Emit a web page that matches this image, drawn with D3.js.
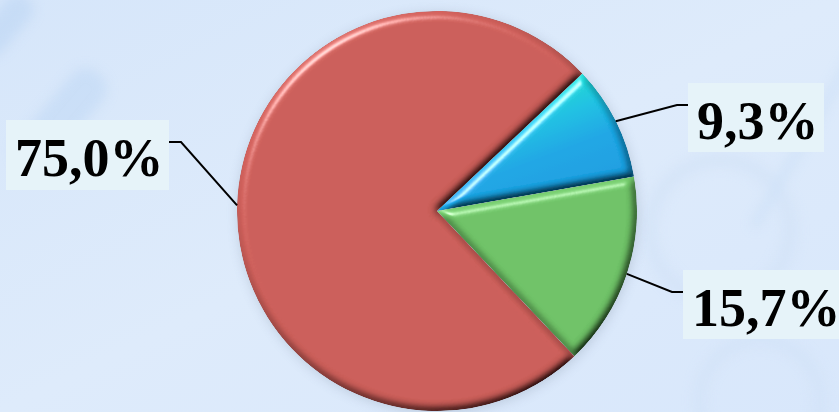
<!DOCTYPE html>
<html>
<head>
<meta charset="utf-8">
<script src="https://cdn.jsdelivr.net/npm/d3@7"></script>
<style>
  html, body { margin: 0; padding: 0; overflow: hidden; }
  svg { display: block; }
</style>
</head>
<body>
<svg id="chart" width="839" height="412"></svg>
<script>
// ---- data ----
const categories = ["A", "B", "C"];
const values = [9.3, 15.7, 75.0];
const labels = ["9,3%", "15,7%", "75,0%"];
const colors = ["#1ba6e6", "#70c468", "#cd5f5a"];

// ---- layout ----
const W = 839, H = 412;
const cx = 437, cy = 211, R = 200;
const startDeg = 46.6;
const boxes = [
  { x: 688, y: 83, w: 136, h: 69, side: "right" },
  { x: 683, y: 270, w: 170, h: 69, side: "right" },
  { x: 6, y: 120, w: 163, h: 70, side: "left" }
];

const svg = d3.select("#chart");
const defs = svg.append("defs");

const bg = defs.append("linearGradient").attr("id", "bg")
  .attr("x1", "0").attr("y1", "0").attr("x2", "1").attr("y2", "1");
bg.append("stop").attr("offset", "0").attr("stop-color", "#d6e6fa");
bg.append("stop").attr("offset", "0.5").attr("stop-color", "#deebfb");
bg.append("stop").attr("offset", "1").attr("stop-color", "#d8e7fb");

const blurF = defs.append("filter").attr("id", "soft")
  .attr("x", "-50%").attr("y", "-50%").attr("width", "200%").attr("height", "200%");
blurF.append("feGaussianBlur").attr("stdDeviation", 6);

const bl = defs.append("linearGradient").attr("id", "blueGrad")
  .attr("gradientUnits", "userSpaceOnUse")
  .attr("x1", 130).attr("y1", -135).attr("x2", 170).attr("y2", -30);
bl.append("stop").attr("offset", "0").attr("stop-color", "#22ddd2");
bl.append("stop").attr("offset", "0.3").attr("stop-color", "#1cc3e4");
bl.append("stop").attr("offset", "0.6").attr("stop-color", "#1aa8e6");
bl.append("stop").attr("offset", "1").attr("stop-color", "#1a9fe2");

// bevel filter
const bev = defs.append("filter").attr("id", "bevel")
  .attr("x", "-10%").attr("y", "-10%").attr("width", "120%").attr("height", "120%");
bev.append("feGaussianBlur").attr("in", "SourceAlpha").attr("stdDeviation", 4.5).attr("result", "blur");
const diff = bev.append("feDiffuseLighting").attr("in", "blur")
  .attr("surfaceScale", 7).attr("diffuseConstant", 1).attr("lighting-color", "#ffffff")
  .attr("result", "light");
diff.append("feDistantLight").attr("azimuth", 235).attr("elevation", 55);
bev.append("feComposite").attr("in", "SourceGraphic").attr("in2", "light")
  .attr("operator", "arithmetic").attr("k1", 1.2).attr("k2", 0).attr("k3", 0).attr("k4", 0)
  .attr("result", "lit");
const spec = bev.append("feSpecularLighting").attr("in", "blur")
  .attr("surfaceScale", 7).attr("specularConstant", 0.55).attr("specularExponent", 35)
  .attr("lighting-color", "#ffffff").attr("result", "spec");
spec.append("feDistantLight").attr("azimuth", 235).attr("elevation", 30);
bev.append("feComposite").attr("in", "spec").attr("in2", "SourceAlpha")
  .attr("operator", "in").attr("result", "specIn");
bev.append("feComposite").attr("in", "lit").attr("in2", "specIn")
  .attr("operator", "arithmetic").attr("k1", 0).attr("k2", 1).attr("k3", 1).attr("k4", 0)
  .attr("result", "out");
bev.append("feComposite").attr("in", "out").attr("in2", "SourceAlpha").attr("operator", "in");

// background
svg.append("rect").attr("width", W).attr("height", H).attr("fill", "url(#bg)");
const deco = svg.append("g").attr("filter", "url(#soft)").attr("opacity", 0.5);
deco.append("rect").attr("x", 40).attr("y", 60).attr("width", 40).attr("height", 120).attr("rx", 18)
  .attr("fill", "#bcd6f4").attr("transform", "rotate(40 60 120)");
deco.append("rect").attr("x", -10).attr("y", -10).attr("width", 30).attr("height", 70).attr("rx", 14)
  .attr("fill", "#b8d3f3").attr("transform", "rotate(40 5 25)");
deco.append("circle").attr("cx", 720).attr("cy", 230).attr("r", 70).attr("fill", "none")
  .attr("stroke", "#cfe0f6").attr("stroke-width", 14);
deco.append("circle").attr("cx", 760).attr("cy", 400).attr("r", 60).attr("fill", "none")
  .attr("stroke", "#cfe0f6").attr("stroke-width", 12);
deco.append("rect").attr("x", 800).attr("y", 40).attr("width", 8).attr("height", 200)
  .attr("fill", "#c4dbf5").attr("transform", "rotate(30 804 140)");

// pie
const pie = d3.pie().sort(null).value(d => d)
  .startAngle(startDeg * Math.PI / 180)
  .endAngle(startDeg * Math.PI / 180 + 2 * Math.PI);
const arcs = pie(values);
const arc = d3.arc().innerRadius(0).outerRadius(R);

const g = svg.append("g").attr("transform", `translate(${cx},${cy})`);
g.append("circle").attr("r", R).attr("cx", 1).attr("cy", 2)
  .attr("fill", "#7a8aa0").attr("opacity", 0.3).attr("filter", "url(#soft)");

g.selectAll("path.slice").data(arcs).enter().append("path")
  .attr("class", "slice")
  .attr("d", arc)
  .attr("fill", (d, i) => i === 0 ? "url(#blueGrad)" : colors[i])
  .attr("filter", "url(#bevel)");

// leader lines + labels
arcs.forEach((d, i) => {
  const mid = (d.startAngle + d.endAngle) / 2;
  const px = cx + R * Math.sin(mid);
  const py = cy - R * Math.cos(mid);
  const b = boxes[i];
  const ly = b.y + 22;
  let ex, bx;
  if (b.side === "right") { bx = b.x; ex = b.x - 11; }
  else { bx = b.x + b.w; ex = bx + 12; }
  svg.append("polyline")
    .attr("points", [[px, py], [ex, ly], [bx, ly]].map(p => p.join(",")).join(" "))
    .attr("fill", "none").attr("stroke", "#000").attr("stroke-width", 2);
  svg.append("rect").attr("x", b.x).attr("y", b.y).attr("width", b.w).attr("height", b.h)
    .attr("fill", "#e6f3f9");
  svg.append("text")
    .attr("x", b.x + 9).attr("y", b.y + 56)
    .attr("font-family", "'Liberation Serif', 'Times New Roman', serif")
    .attr("font-weight", "bold").attr("font-size", 54)
    .attr("fill", "#000")
    .text(labels[i]);
});
</script>
</body>
</html>
